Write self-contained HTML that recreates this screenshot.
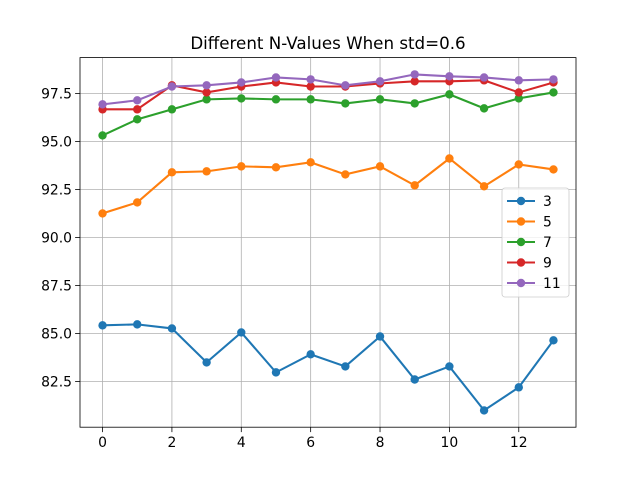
<!DOCTYPE html>
<html><head><meta charset="utf-8"><style>
body{margin:0;background:#fff;}
svg{display:block;font-family:"DejaVu Sans","Liberation Sans",sans-serif;}
</style></head><body>
<svg id="chart" width="640" height="480"></svg>
<script>
const xCategories=[0,1,2,3,4,5,6,7,8,9,10,11,12,13];
const seriesNames=["3","5","7","9","11"];
const series3=[85.42,85.47,85.26,83.49,85.05,82.97,83.91,83.28,84.84,82.6,83.28,80.99,82.19,84.64];
const series5=[91.25,91.82,93.39,93.44,93.7,93.65,93.91,93.28,93.7,92.71,94.11,92.66,93.8,93.54];
const series7=[95.31,96.15,96.67,97.19,97.24,97.19,97.19,96.98,97.19,96.98,97.45,96.72,97.24,97.55];
const series9=[96.67,96.67,97.92,97.55,97.86,98.07,97.86,97.86,98.02,98.13,98.13,98.18,97.55,98.07];
const series11=[96.93,97.14,97.86,97.92,98.07,98.33,98.23,97.92,98.13,98.49,98.39,98.33,98.18,98.23];
const xTicks=[0,2,4,6,8,10,12];
const yTicks=[82.5,85.0,87.5,90.0,92.5,95.0,97.5];
const colors=["#1f77b4","#ff7f0e","#2ca02c","#d62728","#9467bd"];
const NS="http://www.w3.org/2000/svg";
const svg=document.getElementById('chart');
const L=80,R=576,T=57.6,B=427.2;
const all=[series3,series5,series7,series9,series11];
let mn=Math.min(...all.flat()),mx=Math.max(...all.flat());
const pad=(mx-mn)*0.05;const y0=mn-pad,y1=mx+pad;
const xMin=-0.65,xMax=13.65;
const sx=v=>L+(v-xMin)/(xMax-xMin)*(R-L);
const sy=v=>B-(v-y0)/(y1-y0)*(B-T);
function mk(t,a,p){const e=document.createElementNS(NS,t);for(const k in a)e.setAttribute(k,a[k]);(p||svg).appendChild(e);return e;}
// grid
xTicks.forEach(v=>{
 const g=mk('line',{x1:sx(v),x2:sx(v),y1:T,y2:B,stroke:'#b0b0b0','stroke-width':0.8});
 
 
 mk('line',{x1:sx(v),x2:sx(v),y1:B,y2:B+4.9,stroke:'#000','stroke-width':0.8});
 const t=mk('text',{x:sx(v),y:B+20,'text-anchor':'middle','font-size':13.9,fill:'#000'});t.textContent=v;
 
 
});
yTicks.forEach(v=>{
 const g=mk('line',{x1:L,x2:R,y1:sy(v),y2:sy(v),stroke:'#b0b0b0','stroke-width':0.8});
 
 
 mk('line',{x1:L-4.9,x2:L,y1:sy(v),y2:sy(v),stroke:'#000','stroke-width':0.8});
 const t=mk('text',{x:L-8,y:sy(v)+5,'text-anchor':'end','font-size':13.9,fill:'#000'});t.textContent=v.toFixed(1);
 
 
});
// series
all.forEach((s,i)=>{
 const g=mk('g',{});
 
 
 mk('polyline',{points:s.map((v,j)=>sx(xCategories[j])+','+sy(v)).join(' '),fill:'none',stroke:colors[i],'stroke-width':2.08},g);
 s.forEach((v,j)=>{const c=mk('circle',{cx:sx(xCategories[j]),cy:sy(v),r:4.2,fill:colors[i]},g);
  
  });
});
const fr=mk('rect',{x:L,y:T,width:R-L,height:B-T,fill:'none',stroke:'#000','stroke-width':0.8});


const tt=mk('text',{x:(L+R)/2,y:49,'text-anchor':'middle','font-size':16.7,fill:'#000'});tt.textContent='Different N-Values When std=0.6';


// legend
const lg=mk('g',{});


mk('rect',{x:502,y:188,width:67,height:109,rx:3,fill:'#fff','fill-opacity':0.8,stroke:'#ccc','stroke-width':0.8},lg);
seriesNames.forEach((n,i)=>{
 const yy=201+i*20.5;
 const e=mk('g',{},lg);
 
 
 mk('line',{x1:507,x2:535,y1:yy,y2:yy,stroke:colors[i],'stroke-width':2.08},e);
 mk('circle',{cx:521,cy:yy,r:4.2,fill:colors[i]},e);
 const t=mk('text',{x:543,y:yy+5,'font-size':13.9,fill:'#000'},e);t.textContent=n;
});
</script>
</body></html>
